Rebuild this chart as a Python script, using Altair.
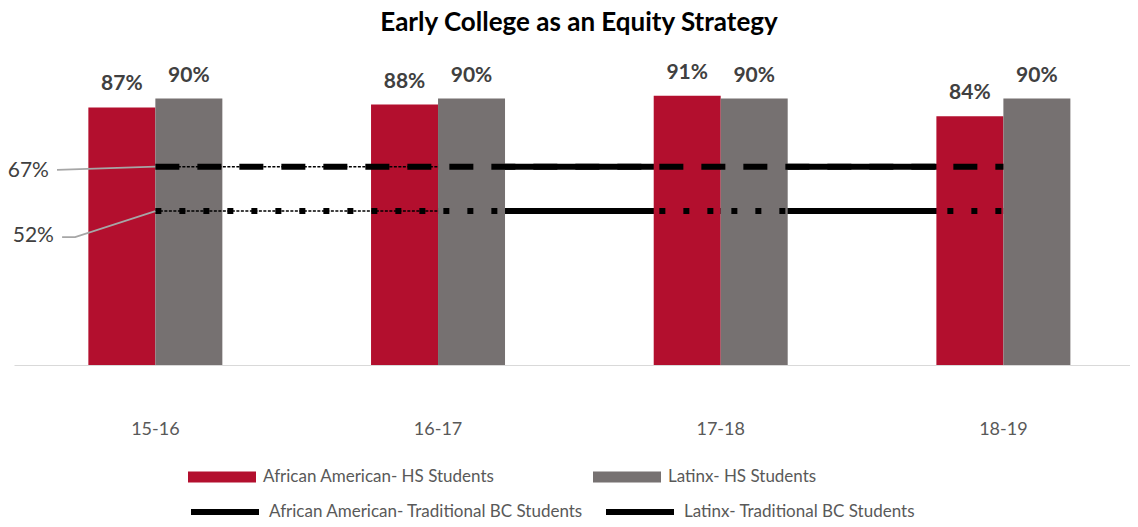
import altair as alt
import pandas as pd

years = ["15-16", "16-17", "17-18", "18-19"]
aa_hs = [87, 88, 91, 84]
lx_hs = [90, 90, 90, 90]
aa_trad = [67, 67, 67, 67]
lx_trad = [52, 52, 52, 52]
series = [
    "African American- HS Students",
    "Latinx- HS Students",
    "African American- Traditional BC Students",
    "Latinx- Traditional BC Students",
]
colors = ["#B30F2E", "#767171", "#000000", "#000000"]
ann_labels = ["67%", "52%"]
ann_values = [67, 52]
# leader lines (x in category units: 0 = centre of "15-16", 1 = one category step)
leader_id = ["67", "67", "52", "52", "52"]
leader_order = [0, 1, 0, 1, 2]
leader_x = [0, -0.348, 0, -0.284, -0.330]
leader_y = [67, 65.9, 52, 43.2, 43.2]

FONT = "Lato"

bars_df = pd.DataFrame({
    "year": years * 2,
    "series": [series[0]] * 4 + [series[1]] * 4,
    "value": aa_hs + lx_hs,
})
bars_df["label"] = bars_df["value"].astype(str) + "%"

lines_df = pd.DataFrame({
    "year": years * 2,
    "series": [series[2]] * 4 + [series[3]] * 4,
    "value": aa_trad + lx_trad,
})

ann_df = pd.DataFrame({"year": [years[0]] * 2, "label": ann_labels, "value": ann_values})
lead_df = pd.DataFrame({"id": leader_id, "order": leader_order, "pos": leader_x, "value": leader_y})

x_scale = alt.Scale(domain=years, paddingInner=0.526, paddingOuter=0.237, align=0.555)
y_scale = alt.Scale(domain=[0, 100], nice=False)

X = alt.X("year:N", sort=years, scale=x_scale,
          axis=alt.Axis(title=None, domain=True, domainColor="#D9D9D9", domainWidth=1.2,
                        ticks=False, labelAngle=0,
                        labelPadding=55, labelFontSize=18, labelColor="#595959",
                        labelFont=FONT, grid=False))
Y = alt.Y("value:Q", scale=y_scale, axis=None)

bar_shape = "M-1,-0.16L1,-0.16L1,0.16L-1,0.16Z"

leg_common = dict(title=None, orient="none", columns=2,
                  labelFont=FONT, labelFontSize=17, labelColor="#595959",
                  labelOffset=7, labelLimit=0, symbolSize=4624, symbolOpacity=1)

solid_under = alt.Chart(lines_df).transform_filter(
    alt.FieldOneOfPredicate(field="year", oneOf=years[1:])
).mark_line(strokeWidth=6, strokeCap="butt").encode(
    x=X, y=Y,
    stroke=alt.Stroke("series:N", scale=alt.Scale(domain=series[2:], range=colors[2:]),
                      legend=alt.Legend(legendX=174, legendY=406, columnPadding=10,
                                        symbolType="stroke", symbolStrokeWidth=6,
                                        **leg_common)),
)

bars = alt.Chart(bars_df).mark_bar().encode(
    x=X, y=Y,
    xOffset=alt.XOffset("series:N", sort=series[:2],
                        scale=alt.Scale(domain=series[:2], paddingInner=0, paddingOuter=0)),
    color=alt.Color("series:N", scale=alt.Scale(domain=series[:2], range=colors[:2]),
                    legend=alt.Legend(legendX=174, legendY=374, columnPadding=98,
                                      symbolType=bar_shape, symbolStrokeWidth=0,
                                      **leg_common)),
)

dash_aa = alt.Chart(lines_df).transform_filter(
    alt.datum.series == series[2]
).mark_line(color="black", strokeWidth=6, strokeDash=[24, 18], strokeCap="butt").encode(x=X, y=Y)

dot_lx = alt.Chart(lines_df).transform_filter(
    alt.datum.series == series[3]
).mark_line(color="black", strokeWidth=6, strokeDash=[6, 18], strokeCap="butt").encode(x=X, y=Y)

thin_first = alt.Chart(lines_df).transform_filter(
    alt.FieldOneOfPredicate(field="year", oneOf=years[:2])
).mark_line(color="black", strokeWidth=1.5, strokeDash=[3, 1.5], strokeCap="butt").encode(
    x=X, y=Y, detail="series:N"
)

bar_labels = alt.Chart(bars_df).mark_text(
    font=FONT, fontSize=21, fontWeight="bold", color="#404040", baseline="alphabetic", dy=-17
).encode(
    x=X, y=Y,
    xOffset=alt.XOffset("series:N", sort=series[:2]),
    text="label:N",
)

ann67 = ann_df[ann_df.value == 67]
ann52 = ann_df[ann_df.value == 52]

text67 = alt.Chart(ann67).mark_text(
    font=FONT, fontSize=21, color="#404040", align="center", baseline="middle", dx=-127, dy=4
).encode(x=X, y=Y, text="label:N")
text52 = alt.Chart(ann52).mark_text(
    font=FONT, fontSize=21, color="#404040", align="center", baseline="middle", dx=-122, dy=25
).encode(x=X, y=Y, text="label:N")

main = alt.layer(
    solid_under, bars, dash_aa, dot_lx, thin_first, bar_labels, text67, text52,
)

leaders = alt.Chart(lead_df).mark_line(color="#A6A6A6", strokeWidth=1.8).encode(
    x=alt.X("pos:Q", scale=alt.Scale(domain=[-0.5002, 3.4478], nice=False, zero=False), axis=None),
    y=alt.Y("value:Q", scale=y_scale, axis=None),
    detail="id:N",
    order="order:Q",
)

chart = alt.layer(main, leaders).resolve_scale(x="independent").properties(
    width=1116, height=296,
    title=alt.TitleParams("Early College as an Equity Strategy", font=FONT, fontSize=26,
                          fontWeight="bold", color="#000000", anchor="middle", dx=7, offset=26),
    autosize=alt.AutoSizeParams(type="none"),
    padding={"left": 6, "top": 61, "right": 0, "bottom": 154},
).configure_view(stroke=None)

chart.save("out.html", embed_options={"renderer": "svg", "actions": False})
